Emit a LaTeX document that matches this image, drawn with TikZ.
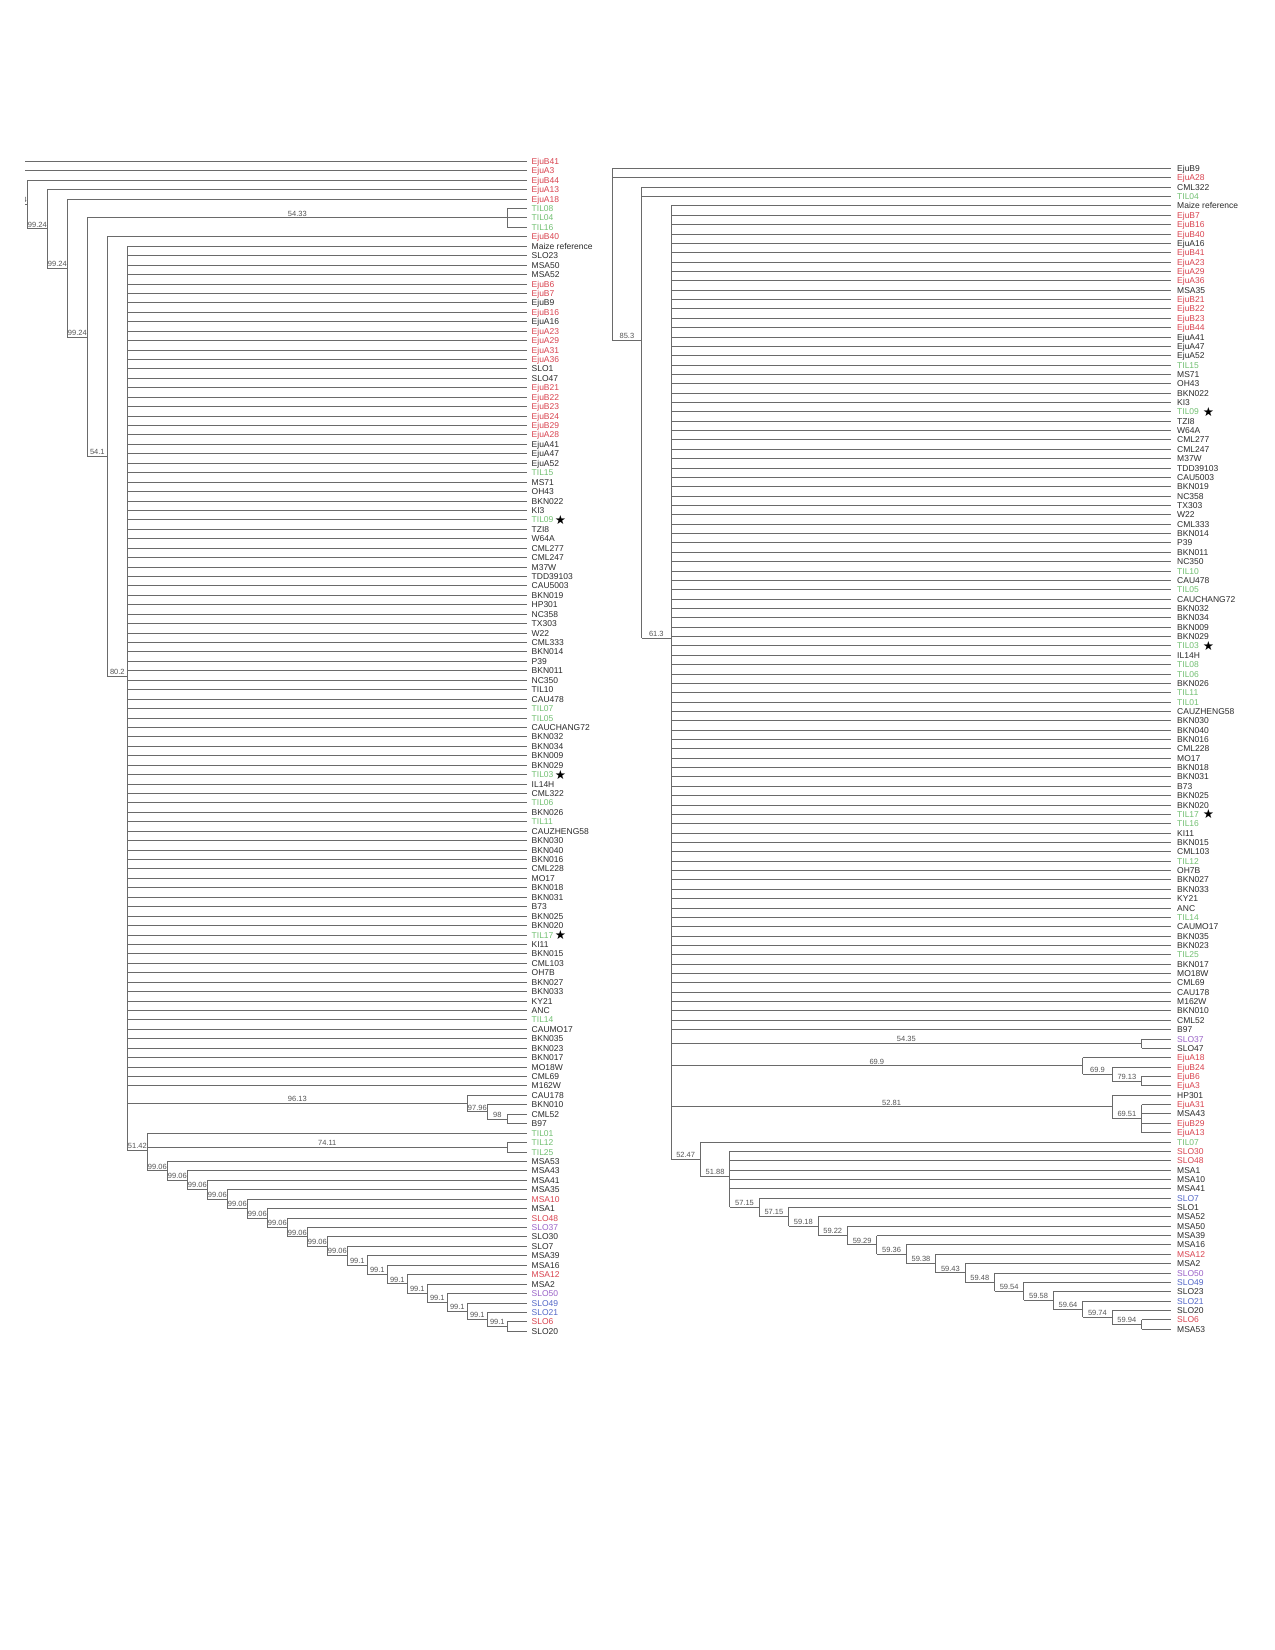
\documentclass[tikz,border=0pt]{standalone}
\usepackage{fontspec}
\setmainfont{Liberation Sans}
\newfontfamily\starfont{DejaVu Sans}
\definecolor{cK}{HTML}{2B2B2B}
\definecolor{cR}{HTML}{D9434F}
\definecolor{cG}{HTML}{72C072}
\definecolor{cP}{HTML}{9A62C8}
\definecolor{cB}{HTML}{5468C8}
\definecolor{lineGray}{HTML}{6A6A6A}
\definecolor{labGray}{HTML}{555555}
\tikzset{
 br/.style={draw=lineGray, line width=0.9pt},
 tiplab/.style={font=\fontsize{8.5}{9}\selectfont, anchor=west, inner sep=0pt, text height=6.1pt, text depth=0pt},
 blab/.style={font=\fontsize{7.5}{8}\selectfont, text=labGray, anchor=south, inner sep=1.4pt, text height=5.4pt, text depth=0pt},
 starmark/.style={font=\starfont\fontsize{12.5}{12.5}\selectfont, anchor=west, inner sep=0pt, text=black},
}
\newcommand\trH[2]{\draw[br] (#1 |- #2) -- (#2);}
\newcommand\trV[3]{\draw[br] (#1 |- #2) -- (#1 |- #3);}
\newcommand\trL[3]{\draw[br] (#1 |- #2) -- node[blab]{#3} (#2);}
\begin{document}
\begin{tikzpicture}[x=1pt, y=-1pt]
\fill[white] (0,0) rectangle (1275,1650);
\useasboundingbox (0,0) rectangle (1275,1650);

% ---------------- LEFT TREE: tips ----------------
\begin{scope}[y=-9.435pt, yshift=-151.865pt]
\foreach \i/\lbl/\col in {1/EjuB41/cR,2/EjuA3/cR,3/EjuB44/cR,4/EjuA13/cR,5/EjuA18/cR,6/TIL08/cG,7/TIL04/cG,8/TIL16/cG,9/EjuB40/cR,10/Maize reference/cK,
11/SLO23/cK,12/MSA50/cK,13/MSA52/cK,14/EjuB6/cR,15/EjuB7/cR,16/EjuB9/cK,17/EjuB16/cR,18/EjuA16/cK,19/EjuA23/cR,20/EjuA29/cR,
21/EjuA31/cR,22/EjuA36/cR,23/SLO1/cK,24/SLO47/cK,25/EjuB21/cR,26/EjuB22/cR,27/EjuB23/cR,28/EjuB24/cR,29/EjuB29/cR,30/EjuA28/cR,
31/EjuA41/cK,32/EjuA47/cK,33/EjuA52/cK,34/TIL15/cG,35/MS71/cK,36/OH43/cK,37/BKN022/cK,38/KI3/cK,39/TIL09/cG,40/TZI8/cK,
41/W64A/cK,42/CML277/cK,43/CML247/cK,44/M37W/cK,45/TDD39103/cK,46/CAU5003/cK,47/BKN019/cK,48/HP301/cK,49/NC358/cK,50/TX303/cK,
51/W22/cK,52/CML333/cK,53/BKN014/cK,54/P39/cK,55/BKN011/cK,56/NC350/cK,57/TIL10/cK,58/CAU478/cK,59/TIL07/cG,60/TIL05/cG,
61/CAUCHANG72/cK,62/BKN032/cK,63/BKN034/cK,64/BKN009/cK,65/BKN029/cK,66/TIL03/cG,67/IL14H/cK,68/CML322/cK,69/TIL06/cG,70/BKN026/cK,
71/TIL11/cG,72/CAUZHENG58/cK,73/BKN030/cK,74/BKN040/cK,75/BKN016/cK,76/CML228/cK,77/MO17/cK,78/BKN018/cK,79/BKN031/cK,80/B73/cK,
81/BKN025/cK,82/BKN020/cK,83/TIL17/cG,84/KI11/cK,85/BKN015/cK,86/CML103/cK,87/OH7B/cK,88/BKN027/cK,89/BKN033/cK,90/KY21/cK,
91/ANC/cK,92/TIL14/cG,93/CAUMO17/cK,94/BKN035/cK,95/BKN023/cK,96/BKN017/cK,97/MO18W/cK,98/CML69/cK,99/M162W/cK,100/CAU178/cK,
101/BKN010/cK,102/CML52/cK,103/B97/cK,104/TIL01/cG,105/TIL12/cG,106/TIL25/cG,107/MSA53/cK,108/MSA43/cK,109/MSA41/cK,110/MSA35/cK,
111/MSA10/cR,112/MSA1/cK,113/SLO48/cR,114/SLO37/cP,115/SLO30/cK,116/SLO7/cK,117/MSA39/cK,118/MSA16/cK,119/MSA12/cR,120/MSA2/cK,
121/SLO50/cP,122/SLO49/cB,123/SLO21/cB,124/SLO6/cR,125/SLO20/cK}{
  \coordinate (lt\i) at (527.3,\i);
  \node[tiplab, text=\col] (ltl\i) at (531.5,\i) {\lbl};
}
\coordinate (lroot) at (7.3,2.86);
\coordinate (lA) at (27.3,5.58);
\coordinate (lB) at (47.3,8.16);
\coordinate (lC) at (67.3,12.32);
\coordinate (lD) at (87.3,19.64);
\coordinate (lT) at (507.3,7);
\coordinate (lE) at (107.3,32.28);
\coordinate (lF) at (127.3,55.56);
\coordinate (lG) at (467.3,100.875);
\coordinate (lGb) at (487.3,101.75);
\coordinate (lGc) at (507.3,102.5);
\coordinate (lH) at (147.3,105.83);
\coordinate (lHb) at (507.3,105.5);
\foreach \k/\y in {3/108,4/109,5/110,6/111,7/112,8/113,9/114,10/115,11/116,12/117,13/117.996,14/118.992,15/119.984,16/120.969,17/121.938,18/122.875,19/123.75,20/124.5}
  \coordinate (lh\k) at ({167.3+(\k-3)*20},\y);
\end{scope}

% ---------------- RIGHT TREE: tips ----------------
\begin{scope}[y=-9.36pt, yshift=-159.14pt]
\foreach \i/\lbl/\col in {1/EjuB9/cK,2/EjuA28/cR,3/CML322/cK,4/TIL04/cG,5/Maize reference/cK,6/EjuB7/cR,7/EjuB16/cR,8/EjuB40/cR,9/EjuA16/cK,10/EjuB41/cR,
11/EjuA23/cR,12/EjuA29/cR,13/EjuA36/cR,14/MSA35/cK,15/EjuB21/cR,16/EjuB22/cR,17/EjuB23/cR,18/EjuB44/cR,19/EjuA41/cK,20/EjuA47/cK,
21/EjuA52/cK,22/TIL15/cG,23/MS71/cK,24/OH43/cK,25/BKN022/cK,26/KI3/cK,27/TIL09/cG,28/TZI8/cK,29/W64A/cK,30/CML277/cK,
31/CML247/cK,32/M37W/cK,33/TDD39103/cK,34/CAU5003/cK,35/BKN019/cK,36/NC358/cK,37/TX303/cK,38/W22/cK,39/CML333/cK,40/BKN014/cK,
41/P39/cK,42/BKN011/cK,43/NC350/cK,44/TIL10/cG,45/CAU478/cK,46/TIL05/cG,47/CAUCHANG72/cK,48/BKN032/cK,49/BKN034/cK,50/BKN009/cK,
51/BKN029/cK,52/TIL03/cG,53/IL14H/cK,54/TIL08/cG,55/TIL06/cG,56/BKN026/cK,57/TIL11/cG,58/TIL01/cG,59/CAUZHENG58/cK,60/BKN030/cK,
61/BKN040/cK,62/BKN016/cK,63/CML228/cK,64/MO17/cK,65/BKN018/cK,66/BKN031/cK,67/B73/cK,68/BKN025/cK,69/BKN020/cK,70/TIL17/cG,
71/TIL16/cG,72/KI11/cK,73/BKN015/cK,74/CML103/cK,75/TIL12/cG,76/OH7B/cK,77/BKN027/cK,78/BKN033/cK,79/KY21/cK,80/ANC/cK,
81/TIL14/cG,82/CAUMO17/cK,83/BKN035/cK,84/BKN023/cK,85/TIL25/cG,86/BKN017/cK,87/MO18W/cK,88/CML69/cK,89/CAU178/cK,90/M162W/cK,
91/BKN010/cK,92/CML52/cK,93/B97/cK,94/SLO37/cP,95/SLO47/cK,96/EjuA18/cR,97/EjuB24/cR,98/EjuB6/cR,99/EjuA3/cR,100/HP301/cK,
101/EjuA31/cR,102/MSA43/cK,103/EjuB29/cR,104/EjuA13/cR,105/TIL07/cG,106/SLO30/cR,107/SLO48/cR,108/MSA1/cK,109/MSA10/cK,110/MSA41/cK,
111/SLO7/cB,112/SLO1/cK,113/MSA52/cK,114/MSA50/cK,115/MSA39/cK,116/MSA16/cK,117/MSA12/cR,118/MSA2/cK,119/SLO50/cP,120/SLO49/cB,
121/SLO23/cK,122/SLO21/cB,123/SLO20/cK,124/SLO6/cR,125/MSA53/cK}{
  \coordinate (rt\i) at (1171,\i);
  \node[tiplab, text=\col] (rtl\i) at (1177,\i) {\lbl};
}
\coordinate (rroot) at (612.2,7.47);
\coordinate (rR1) at (641.6,19.40);
\coordinate (rR2) at (671,51.19);
\coordinate (rS1) at (1141.6,94.5);
\coordinate (rS2) at (1082.7,96.875);
\coordinate (rS3) at (1112.2,97.75);
\coordinate (rS4) at (1141.6,98.5);
\coordinate (rS5) at (1112.2,101.25);
\coordinate (rS6) at (1141.6,102.5);
\coordinate (rU) at (700.4,106.83);
\coordinate (rU2) at (729.8,108.67);
\foreach \k/\y in {1/112,2/113,3/114,4/115,5/115.999,6/116.998,7/117.996,8/118.992,9/119.984,10/120.969,11/121.938,12/122.875,13/123.75,14/124.5}
  \coordinate (rv\k) at ({729.8+\k*29.41},\y);
\end{scope}

% stars
\foreach \i in {39,66,83} \node[starmark] (lstar\i) at ([xshift=1pt]ltl\i.east) {★};
\foreach \i in {27,52,70} \node[starmark] (rstar\i) at ([xshift=3.5pt]rtl\i.east) {★};

% ---------------- LEFT TREE: branches ----------------
\begin{scope}
\clip (25,0) rectangle (620,1650);
\trV{lroot}{lt1}{lA} \trH{lroot}{lt1} \trH{lroot}{lt2} \trL{lroot}{lA}{99.24}
\trV{lA}{lt3}{lB} \trH{lA}{lt3} \trL{lA}{lB}{99.24}
\trV{lB}{lt4}{lC} \trH{lB}{lt4} \trL{lB}{lC}{99.24}
\trV{lC}{lt5}{lD} \trH{lC}{lt5} \trL{lC}{lD}{99.24}
\trV{lD}{lT}{lE} \trL{lD}{lT}{54.33} \trL{lD}{lE}{54.1}
\trV{lT}{lt6}{lt8} \foreach \i in {6,7,8}{\trH{lT}{lt\i}}
\trV{lE}{lt9}{lF} \trH{lE}{lt9} \trL{lE}{lF}{80.2}
\trV{lF}{lt10}{lH}
\foreach \i in {10,...,99}{\trH{lF}{lt\i}}
\trL{lF}{lG}{96.13} \trL{lF}{lH}{51.42}
\trV{lG}{lt100}{lGb} \trH{lG}{lt100} \trL{lG}{lGb}{97.96}
\trV{lGb}{lt101}{lGc} \trH{lGb}{lt101} \trL{lGb}{lGc}{98}
\trV{lGc}{lt102}{lt103} \trH{lGc}{lt102} \trH{lGc}{lt103}
\trV{lH}{lt104}{lh3} \trH{lH}{lt104} \trL{lH}{lHb}{74.11} \trL{lH}{lh3}{99.06}
\trV{lHb}{lt105}{lt106} \trH{lHb}{lt105} \trH{lHb}{lt106}
\foreach \k/\n/\tp/\lab in {3/4/107/99.06,4/5/108/99.06,5/6/109/99.06,6/7/110/99.06,7/8/111/99.06,8/9/112/99.06,9/10/113/99.06,10/11/114/99.06,11/12/115/99.06,12/13/116/99.1,13/14/117/99.1,14/15/118/99.1,15/16/119/99.1,16/17/120/99.1,17/18/121/99.1,18/19/122/99.1,19/20/123/99.1}{
  \trV{lh\k}{lt\tp}{lh\n} \trH{lh\k}{lt\tp} \trL{lh\k}{lh\n}{\lab}
}
\trV{lh20}{lt124}{lt125} \trH{lh20}{lt124} \trH{lh20}{lt125}
\end{scope}

% ---------------- RIGHT TREE: branches ----------------
\trV{rroot}{rt1}{rR1} \trH{rroot}{rt1} \trH{rroot}{rt2} \trL{rroot}{rR1}{85.3}
\trV{rR1}{rt3}{rR2} \trH{rR1}{rt3} \trH{rR1}{rt4} \trL{rR1}{rR2}{61.3}
\trV{rR2}{rt5}{rU}
\foreach \i in {5,...,93}{\trH{rR2}{rt\i}}
\trL{rR2}{rS1}{54.35} \trL{rR2}{rS2}{69.9} \trL{rR2}{rS5}{52.81} \trL{rR2}{rU}{52.47}
\trV{rS1}{rt94}{rt95} \trH{rS1}{rt94} \trH{rS1}{rt95}
\trV{rS2}{rt96}{rS3} \trH{rS2}{rt96} \trL{rS2}{rS3}{69.9}
\trV{rS3}{rt97}{rS4} \trH{rS3}{rt97} \trL{rS3}{rS4}{79.13}
\trV{rS4}{rt98}{rt99} \trH{rS4}{rt98} \trH{rS4}{rt99}
\trV{rS5}{rt100}{rS6} \trH{rS5}{rt100} \trL{rS5}{rS6}{69.51}
\trV{rS6}{rt101}{rt104} \foreach \i in {101,...,104}{\trH{rS6}{rt\i}}
\trV{rU}{rt105}{rU2} \trH{rU}{rt105} \trL{rU}{rU2}{51.88}
\trV{rU2}{rt106}{rv1} \foreach \i in {106,...,110}{\trH{rU2}{rt\i}} \trL{rU2}{rv1}{57.15}
\foreach \k/\n/\tp/\lab in {1/2/111/57.15,2/3/112/59.18,3/4/113/59.22,4/5/114/59.29,5/6/115/59.36,6/7/116/59.38,7/8/117/59.43,8/9/118/59.48,9/10/119/59.54,10/11/120/59.58,11/12/121/59.64,12/13/122/59.74,13/14/123/59.94}{
  \trV{rv\k}{rt\tp}{rv\n} \trH{rv\k}{rt\tp} \trL{rv\k}{rv\n}{\lab}
}
\trV{rv14}{rt124}{rt125} \trH{rv14}{rt124} \trH{rv14}{rt125}
\end{tikzpicture}
\end{document}
